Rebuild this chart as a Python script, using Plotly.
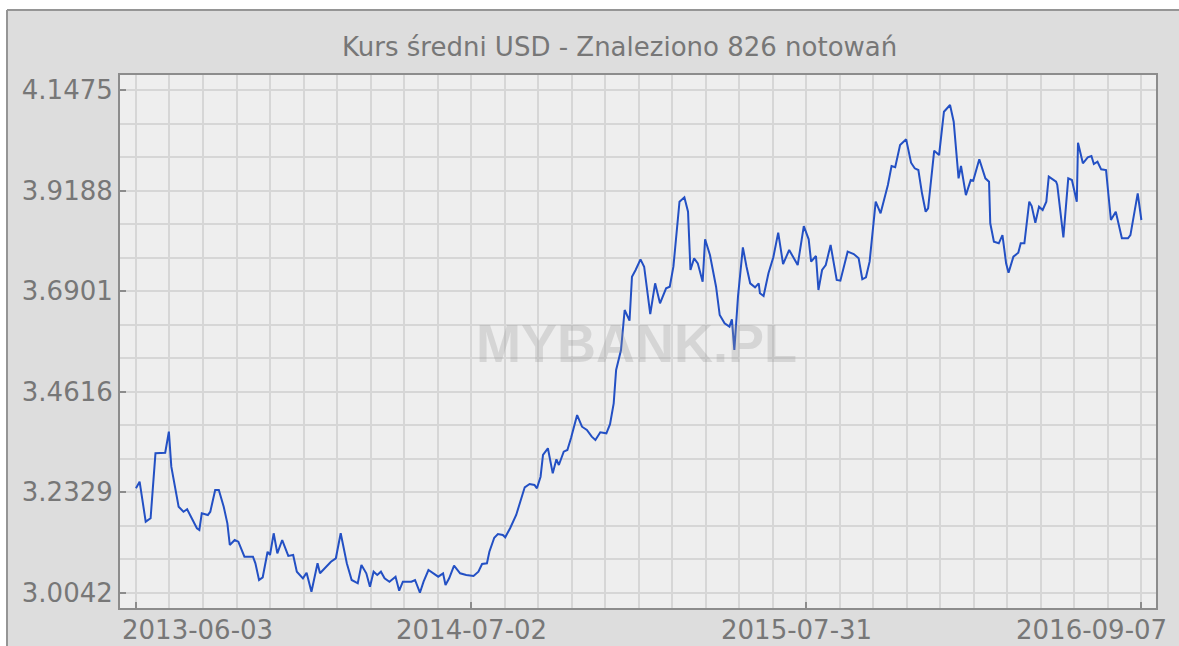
import plotly.graph_objects as go

# quotation index (x axis is indexed by quotation number) and mid rate USD
quote_idx = [0, 3, 8, 12, 16, 24, 27, 29, 35, 39, 42, 46, 50, 52, 54, 59, 61, 65, 68, 72,
             75, 77, 81, 84, 89, 96, 98, 101, 104, 108, 110, 113, 116, 120, 125, 129, 132, 137, 140, 144,
             149, 151, 155, 160, 164, 168, 173, 177, 182, 185, 189, 192, 195, 198, 201, 204, 208, 213, 216, 219,
             226, 229, 233, 236, 240, 244, 248, 252, 254, 257, 261, 266, 271, 277, 281, 284, 288, 290, 294, 297,
             301, 303, 307, 312, 316, 319, 323, 327, 329, 332, 334, 338, 342, 345, 347, 351, 354, 357, 362, 366,
             370, 374, 377, 381, 386, 389, 392, 394, 398, 401, 405, 407, 410, 414, 417, 419, 422, 426, 430, 435,
             438, 441, 446, 450, 453, 455, 458, 461, 465, 467, 471, 476, 479, 483, 487, 489, 491, 494, 498, 501,
             504, 508, 511, 512, 515, 519, 523, 527, 531, 536, 543, 548, 552, 554, 558, 560, 563, 566, 570, 575,
             578, 584, 589, 593, 596, 599, 602, 607, 611, 617, 620, 623, 627, 632, 636, 639, 642, 645, 648, 650,
             655, 659, 663, 668, 671, 675, 677, 681, 685, 687, 692, 697, 700, 701, 704, 708, 711, 714, 716, 720,
             724, 726, 729, 733, 735, 738, 741, 744, 747, 749, 755, 756, 761, 765, 768, 772, 773, 777, 781, 784,
             786, 789, 792, 796, 800, 804, 809, 814, 816, 822, 825]
usd_rate = [3.2416, 3.2566, 3.1657, 3.1734, 3.3212, 3.3226, 3.3704, 3.2908, 3.1998, 3.1884,
            3.1939, 3.1734, 3.1507, 3.1468, 3.1848, 3.1809, 3.1884, 3.2378, 3.2378, 3.1998,
            3.1620, 3.1127, 3.1240, 3.1202, 3.0861, 3.0861, 3.0711, 3.0331, 3.0392, 3.0974,
            3.0899, 3.1393, 3.0938, 3.1240, 3.0877, 3.0899, 3.0520, 3.0369, 3.0497, 3.0065,
            3.0711, 3.0483, 3.0597, 3.0747, 3.0824, 3.1393, 3.0711, 3.0331, 3.0256, 3.0672,
            3.0483, 3.0178, 3.0520, 3.0445, 3.0520, 3.0369, 3.0292, 3.0406, 3.0087, 3.0292,
            3.0292, 3.0331, 3.0042, 3.0292, 3.0558, 3.0483, 3.0406, 3.0483, 3.0217, 3.0369,
            3.0656, 3.0483, 3.0445, 3.0422, 3.0520, 3.0695, 3.0711, 3.0974, 3.1293, 3.1377,
            3.1354, 3.1302, 3.1507, 3.1809, 3.2189, 3.2439, 3.2514, 3.2491, 3.2416, 3.2680,
            3.3174, 3.3326, 3.2757, 3.3076, 3.2946, 3.3249, 3.3288, 3.3560, 3.4083, 3.3817,
            3.3742, 3.3590, 3.3515, 3.3690, 3.3667, 3.3875, 3.4349, 3.5107, 3.5562, 3.6471,
            3.6228, 3.7229, 3.7381, 3.7624, 3.7456, 3.7001, 3.6380, 3.7078, 3.6623, 3.6965,
            3.7001, 3.7456, 3.8935, 3.9034, 3.8707, 3.7381, 3.7647, 3.7533, 3.7115, 3.8079,
            3.7722, 3.7001, 3.6357, 3.6168, 3.6092, 3.6259, 3.5562, 3.6775, 3.7897, 3.7456,
            3.7078, 3.6987, 3.7078, 3.6851, 3.6790, 3.7306, 3.7670, 3.8230, 3.7517, 3.7836,
            3.7495, 3.8381, 3.8079, 3.7570, 3.7700, 3.6927, 3.7381, 3.7495, 3.7950, 3.7154,
            3.7138, 3.7798, 3.7745, 3.7647, 3.7170, 3.7215, 3.7570, 3.8935, 3.8670, 3.9314,
            3.9746, 3.9717, 4.0224, 4.0353, 3.9821, 3.9694, 3.9655, 3.9125, 3.8707, 3.8784,
            4.0094, 3.9996, 4.0981, 4.1134, 4.0754, 3.9466, 3.9746, 3.9085, 3.9428, 3.9413,
            3.9899, 3.9466, 3.9389, 3.8443, 3.8024, 3.7988, 3.8176, 3.7533, 3.7320, 3.7684,
            3.7775, 3.7988, 3.7988, 3.8935, 3.8837, 3.8457, 3.8822, 3.8746, 3.8935, 3.9504,
            3.9389, 3.9314, 3.8124, 3.9466, 3.9428, 3.8935, 4.0277, 3.9808, 3.9944, 3.9973,
            3.9791, 3.9844, 3.9671, 3.9655, 3.8518, 3.8707, 3.8102, 3.8102, 3.8176, 3.9125,
            3.8518]

y_ticks = [3.0042, 3.2329, 3.4616, 3.6901, 3.9188, 4.1475]
y_tick_labels = ["3.0042", "3.2329", "3.4616", "3.6901", "3.9188", "4.1475"]
x_tick_idx = [0, 275, 550, 825]
x_tick_labels = ["2013-06-03", "2014-07-02", "2015-07-31", "2016-09-07"]
title_text = "Kurs średni USD - Znaleziono 826 notowań"
watermark = "MYBANK.PL"

TXT = "#777777"
GRID = "#d6d6d6"
FRAME = "#8c8c8c"
FONT = "DejaVu Sans"
FS = 26

fig = go.Figure()
fig.add_trace(go.Scatter(x=quote_idx, y=usd_rate, mode="lines",
                         line=dict(color="#2350c4", width=2), hoverinfo="skip"))

fig.update_layout(
    width=1179, height=646,
    margin=dict(l=120, r=23, t=75, b=38),
    paper_bgcolor="#dddddd", plot_bgcolor="#eeeeee",
    showlegend=False,
    font=dict(family=FONT, color=TXT, size=FS),
)

fig.update_xaxes(
    range=[-13.1, 837], tickvals=x_tick_idx, ticktext=[""] * 4,
    showgrid=True, gridcolor=GRID, gridwidth=2,
    minor=dict(dtick=27.5, tick0=0, showgrid=True, gridcolor=GRID, gridwidth=2),
    ticks="inside", ticklen=6, tickcolor=FRAME, tickwidth=2,
    showline=True, linecolor=FRAME, linewidth=2, mirror=True, zeroline=False,
)
fig.update_yaxes(
    range=[2.9694, 4.1816], tickvals=y_ticks, ticktext=y_tick_labels,
    showgrid=True, gridcolor=GRID, gridwidth=2,
    minor=dict(dtick=(4.1475 - 3.0042) / 15, tick0=3.0042, showgrid=True, gridcolor=GRID, gridwidth=2),
    ticks="inside", ticklen=6, tickcolor=FRAME, tickwidth=2,
    showline=True, linecolor=FRAME, linewidth=2, mirror=True, zeroline=False,
    tickfont=dict(family=FONT, size=FS, color=TXT),
)

ann = []
# x tick labels placed as in the reference
ann.append(dict(x=0, y=0, xref="paper", yref="paper", text=x_tick_labels[0], xanchor="left",
                yanchor="middle", yshift=-22, xshift=0, showarrow=False))
ann.append(dict(x=x_tick_idx[1], y=0, xref="x", yref="paper", text=x_tick_labels[1], xanchor="center",
                yanchor="middle", yshift=-22, showarrow=False))
ann.append(dict(x=x_tick_idx[2], y=0, xref="x", yref="paper", text=x_tick_labels[2], xanchor="center",
                yanchor="middle", yshift=-22, xshift=-10, showarrow=False))
ann.append(dict(x=1, y=0, xref="paper", yref="paper", text=x_tick_labels[3], xanchor="right",
                yanchor="middle", yshift=-22, xshift=13, showarrow=False))
ann.append(dict(x=0.4826, y=1.0525, xref="paper", yref="paper", text=title_text, xanchor="center",
                yanchor="middle", showarrow=False, font=dict(size=FS, color=TXT, family=FONT)))
ann.append(dict(x=0.499, y=0.497, xref="paper", yref="paper", text="<b>" + watermark + "</b>",
                xanchor="center", yanchor="middle", showarrow=False,
                font=dict(size=54, color="rgba(150,150,150,0.28)", family="Liberation Sans")))
fig.update_layout(annotations=ann)

# white outside of the outer panel and its border
shapes = [
    dict(type="rect", xref="paper", yref="paper", x0=-0.2, x1=-0.10907, y0=-0.3, y1=1.3,
         fillcolor="white", line=dict(width=0)),
    dict(type="rect", xref="paper", yref="paper", x0=-0.2, x1=1.2, y0=1.1220, y1=1.3,
         fillcolor="white", line=dict(width=0)),
    dict(type="line", xref="paper", yref="paper", x0=-0.10907, x1=-0.10907, y0=-0.3, y1=1.1220,
         line=dict(color="#959595", width=2)),
    dict(type="line", xref="paper", yref="paper", x0=-0.10907, x1=1.2, y0=1.1220, y1=1.1220,
         line=dict(color="#959595", width=2)),
]
fig.update_layout(shapes=shapes)

fig.write_html("out.html", config={"displayModeBar": False},
               post_script="document.body.style.margin='0px';document.body.style.padding='0px';")
